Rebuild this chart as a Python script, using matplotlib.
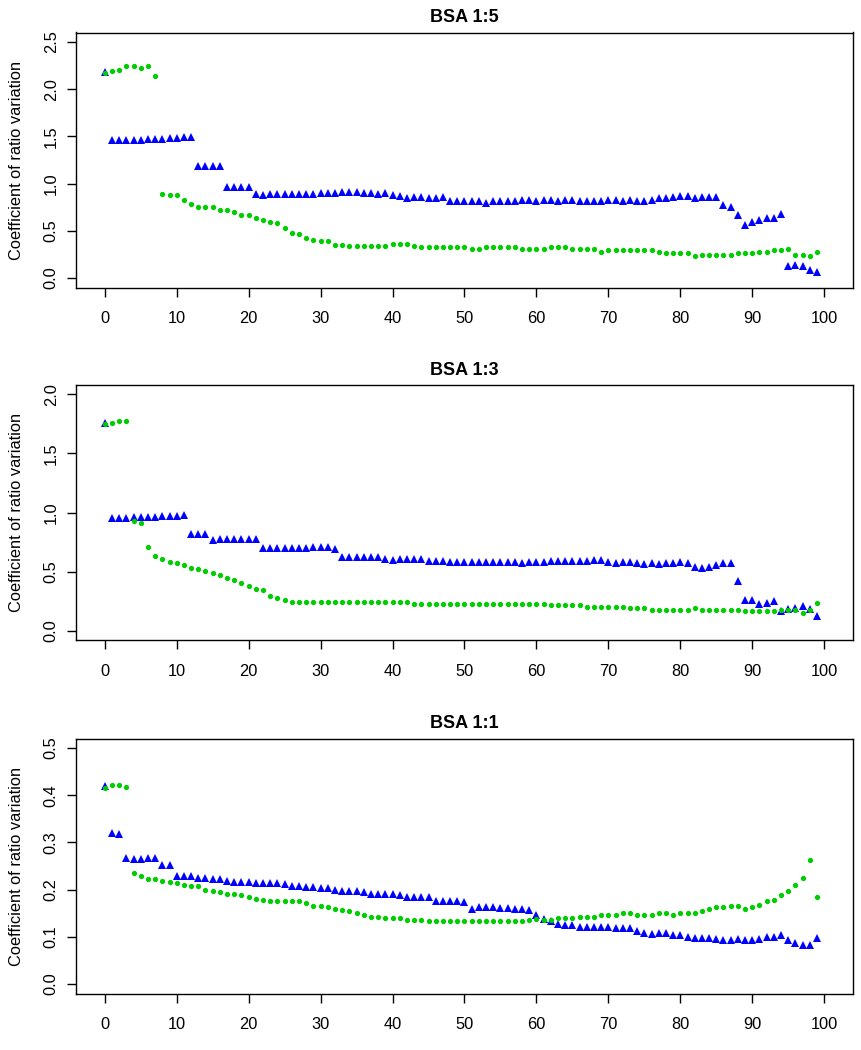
import matplotlib
matplotlib.use("Agg")
from matplotlib import pyplot as plt

plt.rcParams["font.family"] = ["Liberation Sans", "DejaVu Sans"]

# Peptide rank on the x axis, 0..99
ranks = list(range(100))

titles = ["BSA 1:5", "BSA 1:3", "BSA 1:1"]
y_label = "Coefficient of ratio variation"

# BSA 1:5
blue_15 = [
    2.18, 1.46, 1.46, 1.46, 1.46, 1.46, 1.47, 1.47, 1.47, 1.48,
    1.48, 1.49, 1.49, 1.19, 1.19, 1.19, 1.19, 0.96, 0.96, 0.96,
    0.96, 0.89, 0.88, 0.89, 0.89, 0.89, 0.89, 0.89, 0.89, 0.89,
    0.90, 0.90, 0.90, 0.91, 0.91, 0.91, 0.90, 0.90, 0.89, 0.90,
    0.88, 0.87, 0.85, 0.86, 0.86, 0.85, 0.85, 0.86, 0.82, 0.82,
    0.82, 0.82, 0.82, 0.80, 0.82, 0.82, 0.82, 0.82, 0.83, 0.83,
    0.82, 0.83, 0.83, 0.82, 0.83, 0.83, 0.82, 0.82, 0.82, 0.815,
    0.826, 0.826, 0.815, 0.826, 0.815, 0.815, 0.829, 0.847, 0.847, 0.858,
    0.865, 0.865, 0.851, 0.858, 0.858, 0.858, 0.769, 0.755, 0.663, 0.564,
    0.592, 0.613, 0.641, 0.641, 0.681, 0.124, 0.134, 0.124, 0.088, 0.060,
]
green_15 = [
    2.17, 2.19, 2.20, 2.24, 2.24, 2.22, 2.25, 2.14, 0.89, 0.88,
    0.88, 0.83, 0.78, 0.75, 0.75, 0.75, 0.72, 0.72, 0.70, 0.67,
    0.67, 0.64, 0.62, 0.59, 0.58, 0.53, 0.48, 0.47, 0.42, 0.40,
    0.39, 0.39, 0.355, 0.35, 0.34, 0.344, 0.344, 0.344, 0.344, 0.344,
    0.358, 0.362, 0.362, 0.34, 0.326, 0.326, 0.326, 0.326, 0.326, 0.326,
    0.326, 0.312, 0.308, 0.326, 0.326, 0.326, 0.326, 0.326, 0.308, 0.308,
    0.308, 0.308, 0.326, 0.326, 0.326, 0.312, 0.308, 0.308, 0.308, 0.28,
    0.294, 0.294, 0.294, 0.294, 0.294, 0.294, 0.294, 0.276, 0.262, 0.262,
    0.262, 0.266, 0.23, 0.248, 0.248, 0.248, 0.248, 0.248, 0.262, 0.262,
    0.262, 0.276, 0.276, 0.294, 0.294, 0.308, 0.248, 0.248, 0.23, 0.28,
]

# BSA 1:3
blue_13 = [
    1.757, 0.957, 0.957, 0.957, 0.965, 0.965, 0.965, 0.965, 0.971, 0.971,
    0.971, 0.977, 0.821, 0.821, 0.821, 0.763, 0.773, 0.773, 0.773, 0.773,
    0.773, 0.773, 0.697, 0.70, 0.70, 0.70, 0.70, 0.70, 0.70, 0.711,
    0.711, 0.711, 0.694, 0.621, 0.626, 0.626, 0.626, 0.621, 0.626, 0.604,
    0.598, 0.604, 0.604, 0.604, 0.604, 0.593, 0.593, 0.593, 0.581, 0.581,
    0.581, 0.581, 0.581, 0.581, 0.581, 0.581, 0.581, 0.581, 0.570, 0.581,
    0.581, 0.581, 0.587, 0.587, 0.587, 0.593, 0.593, 0.593, 0.596, 0.601,
    0.581, 0.570, 0.581, 0.581, 0.575, 0.564, 0.570, 0.564, 0.570, 0.575,
    0.581, 0.570, 0.537, 0.528, 0.542, 0.559, 0.575, 0.575, 0.420, 0.259,
    0.259, 0.225, 0.231, 0.251, 0.169, 0.180, 0.194, 0.208, 0.180, 0.124,
]
green_13 = [
    1.75, 1.762, 1.776, 1.776, 0.929, 0.909, 0.706, 0.632, 0.604, 0.581,
    0.570, 0.556, 0.528, 0.519, 0.505, 0.491, 0.469, 0.443, 0.429, 0.406,
    0.378, 0.355, 0.344, 0.293, 0.279, 0.257, 0.240, 0.240, 0.240, 0.240,
    0.240, 0.240, 0.240, 0.240, 0.240, 0.240, 0.240, 0.240, 0.240, 0.240,
    0.240, 0.240, 0.240, 0.226, 0.226, 0.226, 0.226, 0.226, 0.226, 0.226,
    0.226, 0.226, 0.226, 0.226, 0.226, 0.226, 0.226, 0.226, 0.226, 0.226,
    0.226, 0.226, 0.214, 0.214, 0.214, 0.214, 0.214, 0.203, 0.203, 0.203,
    0.203, 0.203, 0.203, 0.189, 0.189, 0.189, 0.177, 0.177, 0.177, 0.177,
    0.177, 0.177, 0.189, 0.177, 0.177, 0.177, 0.177, 0.177, 0.177, 0.164,
    0.164, 0.164, 0.164, 0.164, 0.177, 0.177, 0.177, 0.152, 0.175, 0.231,
]

# BSA 1:1
blue_11 = [
    0.420, 0.320, 0.318, 0.266, 0.265, 0.265, 0.266, 0.266, 0.252, 0.252,
    0.228, 0.229, 0.229, 0.225, 0.225, 0.223, 0.222, 0.218, 0.217, 0.217,
    0.216, 0.214, 0.214, 0.213, 0.213, 0.211, 0.207, 0.207, 0.206, 0.206,
    0.204, 0.204, 0.199, 0.198, 0.198, 0.197, 0.194, 0.190, 0.190, 0.190,
    0.191, 0.188, 0.185, 0.185, 0.185, 0.185, 0.175, 0.175, 0.175, 0.175,
    0.173, 0.160, 0.163, 0.163, 0.163, 0.161, 0.161, 0.160, 0.160, 0.156,
    0.147, 0.137, 0.134, 0.128, 0.125, 0.125, 0.121, 0.121, 0.121, 0.120,
    0.120, 0.118, 0.118, 0.118, 0.113, 0.109, 0.106, 0.109, 0.109, 0.104,
    0.103, 0.099, 0.097, 0.097, 0.097, 0.095, 0.093, 0.093, 0.096, 0.093,
    0.093, 0.096, 0.099, 0.099, 0.104, 0.093, 0.087, 0.082, 0.082, 0.097,
]
green_11 = [
    0.415, 0.422, 0.422, 0.418, 0.235, 0.229, 0.223, 0.222, 0.219, 0.216,
    0.213, 0.210, 0.207, 0.207, 0.200, 0.197, 0.194, 0.191, 0.191, 0.188,
    0.185, 0.181, 0.178, 0.175, 0.175, 0.175, 0.175, 0.175, 0.172, 0.166,
    0.166, 0.163, 0.160, 0.156, 0.154, 0.151, 0.147, 0.143, 0.143, 0.140,
    0.140, 0.140, 0.136, 0.136, 0.136, 0.133, 0.133, 0.133, 0.133, 0.133,
    0.133, 0.133, 0.133, 0.133, 0.133, 0.133, 0.133, 0.133, 0.133, 0.136,
    0.138, 0.136, 0.136, 0.140, 0.140, 0.140, 0.143, 0.143, 0.143, 0.147,
    0.147, 0.147, 0.150, 0.150, 0.147, 0.147, 0.147, 0.150, 0.150, 0.147,
    0.150, 0.150, 0.150, 0.154, 0.159, 0.163, 0.163, 0.165, 0.165, 0.159,
    0.163, 0.168, 0.175, 0.178, 0.188, 0.197, 0.210, 0.225, 0.263, 0.184,
]

blue_series = [blue_15, blue_13, blue_11]
green_series = [green_15, green_13, green_11]
y_ticks = [
    [0.0, 0.5, 1.0, 1.5, 2.0, 2.5],
    [0.0, 0.5, 1.0, 1.5, 2.0],
    [0.0, 0.1, 0.2, 0.3, 0.4, 0.5],
]
x_ticks = [0, 10, 20, 30, 40, 50, 60, 70, 80, 90, 100]

BLUE = "#0000FF"
GREEN = "#00CD00"


def draw_panel(ax, title, blue, green, ticks):
    """One R style scatter panel, blue triangles with green dots on top"""
    ax.plot(ranks, blue, linestyle="none", marker="^", markersize=6.0,
            color=BLUE, markeredgewidth=0)
    ax.plot(ranks, green, linestyle="none", marker="o", markersize=3.8,
            color=GREEN, markeredgewidth=0)

    # R pads the range by 4% on both sides
    lo, hi = ticks[0], ticks[-1]
    ext = (hi - lo) * 0.04
    ax.set_ylim(lo - ext, hi + ext)
    ax.set_xlim(-4, 104)

    ax.set_xticks(x_ticks)
    ax.set_xticklabels([str(t) for t in x_ticks])
    ax.set_yticks(ticks)
    ax.set_yticklabels([f"{t:.1f}" for t in ticks], rotation=90, va="center")

    ax.tick_params(direction="out", length=6.5, width=1.0, labelsize=11.8,
                   colors="black")
    ax.tick_params(axis="x", pad=10.5)
    ax.tick_params(axis="y", pad=6)
    for spine in ax.spines.values():
        spine.set_linewidth(1.0)

    ax.set_title(title, fontsize=13, fontweight="bold", pad=7.5)
    ax.set_ylabel(y_label, fontsize=11.8, va="center")
    ax.yaxis.set_label_coords(-0.077, 0.5)


fig = plt.figure(figsize=(8.62, 10.5), dpi=100)

# Axes boxes measured in pixels from the top of the picture
box_tops = [32.5, 385.0, 738.5]
box_height = 255.0
left, width = 76 / 862, 777 / 862

for i in range(3):
    bottom = 1 - (box_tops[i] + box_height) / 1050
    ax = fig.add_axes([left, bottom, width, box_height / 1050])
    draw_panel(ax, titles[i], blue_series[i], green_series[i], y_ticks[i])

fig.savefig("out.png", dpi=100)
